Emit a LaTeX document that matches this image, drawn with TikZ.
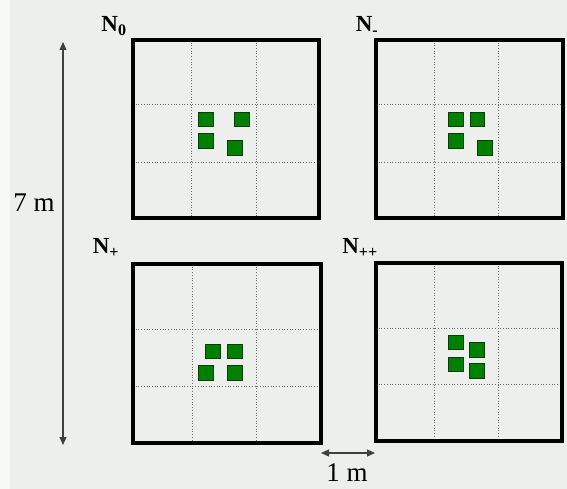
\documentclass[tikz,border=0pt]{standalone}
\usepackage{fontspec}
\setmainfont{Liberation Serif}
\usetikzlibrary{arrows.meta}
\definecolor{bg}{RGB}{236,239,236}
\definecolor{sqfill}{RGB}{0,128,0}
\definecolor{sqdraw}{RGB}{10,60,10}
\definecolor{gridc}{RGB}{110,110,110}
\tikzset{
  plot/.style={draw=black,line width=3.2pt},
  gridline/.style={draw=gridc,line width=0.7pt,dotted},
  sq/.style={fill=sqfill,draw=sqdraw,line width=0.8pt},
  lab/.style={font=\fontsize{23}{25}\selectfont\bfseries,inner sep=0pt},
  dim/.style={font=\fontsize{27}{29}\selectfont,inner sep=0pt},
  dimarrow/.style={draw=black!75,line width=1.2pt,{Triangle[length=8pt,width=7pt]}-{Triangle[length=8pt,width=7pt]}}
}
\begin{document}
\begin{tikzpicture}[x=1pt,y=-1pt]
\fill[bg] (0,0) rectangle (567,489);
\fill[white!60!bg] (0,0) rectangle (10,489);
\useasboundingbox (0,0) rectangle (567,489);

% Box 1 N0
\draw[gridline] (191,40) -- (191,218) (256,40) -- (256,218) (133,104) -- (319,104) (133,162) -- (319,162);
\draw[plot] (133,40) rectangle (319,218);
\fill[sq] (198,112) rectangle (213,126);
\fill[sq] (234,112) rectangle (249,126);
\fill[sq] (198,133) rectangle (213,148);
\fill[sq] (227,140) rectangle (242,155);
\node[lab] (l0) at (114,26) {N\textsubscript{0}};

% Box 2 N-
\draw[gridline] (434,40) -- (434,218) (498,40) -- (498,218) (376,104) -- (563,104) (376,162) -- (563,162);
\draw[plot] (376,40) rectangle (563,218);
\fill[sq] (448,112) rectangle (463,126);
\fill[sq] (470,112) rectangle (484,126);
\fill[sq] (448,133) rectangle (463,148);
\fill[sq] (477,140) rectangle (492,155);
\node[lab] (l1) at (367,26) {N\textsubscript{-}};

% Box 3 N+
\draw[gridline] (192,264) -- (192,443) (256,264) -- (256,443) (133,329) -- (321,329) (133,386) -- (321,386);
\draw[plot] (133,264) rectangle (321,443);
\fill[sq] (205,344) rectangle (220,358);
\fill[sq] (227,344) rectangle (242,358);
\fill[sq] (198,365) rectangle (213,380);
\fill[sq] (227,365) rectangle (242,380);
\node[lab] (l2) at (106,248) {N\textsubscript{+}};

% Box 4 N++
\draw[gridline] (434,263) -- (434,441) (498,263) -- (498,441) (376,328) -- (562,328) (376,384) -- (562,384);
\draw[plot] (376,263) rectangle (562,441);
\fill[sq] (448,335) rectangle (463,349);
\fill[sq] (469,342) rectangle (484,357);
\fill[sq] (448,357) rectangle (463,371);
\fill[sq] (469,363) rectangle (484,378);
\node[lab] (l3) at (360,248) {N\textsubscript{++}};

% dimension arrows
\coordinate (vt) at (63,42);
\coordinate (vb) at (63,445);
\draw[dimarrow] (vt) -- (vb);
\node[dim] (seven) at (34,203) {7 m};
\coordinate (hl) at (321,453);
\coordinate (hr) at (375,453);
\draw[dimarrow] (hl) -- (hr);
\node[dim] (one) at (347,473) {1 m};
\end{tikzpicture}
\end{document}
